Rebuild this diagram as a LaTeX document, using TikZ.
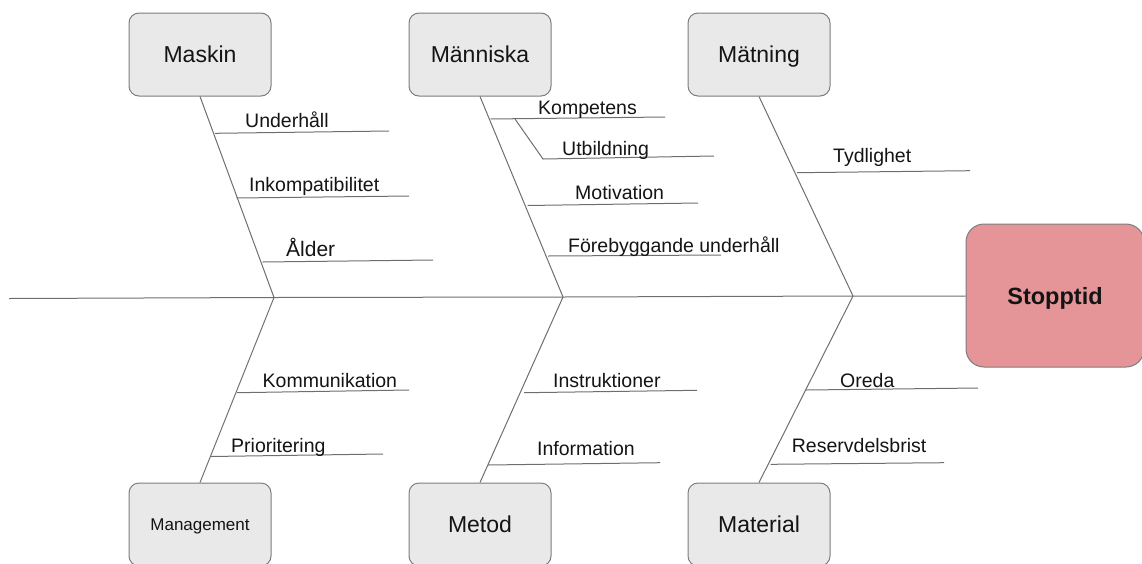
\documentclass[tikz,border=0pt]{standalone}
\usepackage{fontspec}
\setmainfont{Liberation Sans}
\definecolor{boxfill}{RGB}{233,233,233}
\definecolor{boxline}{RGB}{125,125,125}
\definecolor{effectfill}{RGB}{229,149,152}
\definecolor{bone}{RGB}{110,110,110}
\definecolor{ink}{RGB}{20,20,20}
\begin{document}
\begin{tikzpicture}[x=1pt,y=-1pt,
  catbox/.style={draw=boxline, fill=boxfill, rounded corners=10pt, line width=1pt,
    minimum width=142pt, minimum height=83pt, inner sep=0pt, text=ink,
    text height=16.5pt, text depth=0pt,
    font=\fontsize{23}{27}\selectfont},
  effectbox/.style={draw=boxline, fill=effectfill, rounded corners=18pt, line width=1pt,
    minimum width=178pt, minimum height=143pt, inner sep=0pt, text=ink,
    text height=17pt, text depth=0pt,
    font=\fontsize{23.5}{28}\selectfont\bfseries},
  boneline/.style={draw=bone, line width=1pt},
  causelabel/.style={anchor=base west, inner sep=0pt, text=ink,
    font=\fontsize{19.5}{23}\selectfont}]
\useasboundingbox (0,0) rectangle (1142,563);

% category boxes
\node[catbox] (maskin)   at (200,54.5)  {Maskin};
\node[catbox] (manniska) at (480,54.5)  {Människa};
\node[catbox] (matning)  at (759,54.5)  {Mätning};
\node[catbox, text height=12.2pt, font=\fontsize{17}{20}\selectfont] (mgmt) at (200,524.5) {Management};
\node[catbox] (metod)    at (480,524.5) {Metod};
\node[catbox] (material) at (759,524.5) {Material};

% effect
\node[effectbox] (stopp) at (1055,295.5) {Stopptid};

% spine
\coordinate (tail) at (9,298.5);
\coordinate (j1) at (274,297.5);
\coordinate (j2) at (563,297);
\coordinate (j3) at (853,296);
\draw[boneline] (tail) -- (j1) -- (j2) -- (j3) -- (stopp.west |- j3);

% main bones
\draw[boneline] (maskin.south) -- (j1) -- (mgmt.north);
\draw[boneline] (manniska.south) -- (j2) -- (metod.north);
\draw[boneline] (matning.south) -- (j3) -- (material.north);

% Maskin causes
\coordinate (a1) at (215,133.3);   \coordinate (a1e) at (389,131);
\coordinate (a2) at (236.5,198);   \coordinate (a2e) at (409,196);
\coordinate (a3) at (262.5,262);   \coordinate (a3e) at (433,260);
\draw[boneline] (a1) -- (a1e);
\draw[boneline] (a2) -- (a2e);
\draw[boneline] (a3) -- (a3e);
\node[causelabel] (t1) at (245,127.5) {Underhåll};
\node[causelabel] (t2) at (249,191) {Inkompatibilitet};
\node[causelabel, font=\fontsize{21}{25}\selectfont] (t3) at (286,256.5) {Ålder};

% Människa causes
\coordinate (b1) at (490.5,119);   \coordinate (b1e) at (665,117);
\coordinate (b1k) at (515,119);
\coordinate (b2) at (543,159);     \coordinate (b2e) at (714,156);
\coordinate (b3) at (527.5,205.5); \coordinate (b3e) at (698,203);
\coordinate (b4) at (548,256);     \coordinate (b4e) at (721,255);
\draw[boneline] (b1) -- (b1e);
\draw[boneline] (b1k) -- (b2) -- (b2e);
\draw[boneline] (b3) -- (b3e);
\draw[boneline] (b4) -- (b4e);
\node[causelabel] (t4) at (538,114.5) {Kompetens};
\node[causelabel] (t5) at (562,155) {Utbildning};
\node[causelabel] (t6) at (575,199) {Motivation};
\node[causelabel] (t7) at (568,252.5) {Förebyggande underhåll};

% Mätning causes
\coordinate (c1) at (797,172.7);   \coordinate (c1e) at (970,170.7);
\draw[boneline] (c1) -- (c1e);
\node[causelabel] (t8) at (833,162.5) {Tydlighet};

% Management causes
\coordinate (d1) at (237,392.7);   \coordinate (d1e) at (409,390);
\coordinate (d2) at (210.5,456.5); \coordinate (d2e) at (383,454);
\draw[boneline] (d1) -- (d1e);
\draw[boneline] (d2) -- (d2e);
\node[causelabel] (t9) at (262.5,387.5) {Kommunikation};
\node[causelabel] (t10) at (231,452) {Prioritering};

% Metod causes
\coordinate (e1) at (524,392.7);   \coordinate (e1e) at (697,390.3);
\coordinate (e2) at (488,465);     \coordinate (e2e) at (660,462.7);
\draw[boneline] (e1) -- (e1e);
\draw[boneline] (e2) -- (e2e);
\node[causelabel] (t11) at (553,387.5) {Instruktioner};
\node[causelabel] (t12) at (537,455.5) {Information};

% Material causes
\coordinate (f1) at (806,390);     \coordinate (f1e) at (978,388);
\coordinate (f2) at (770.7,464.3); \coordinate (f2e) at (944,462.7);
\draw[boneline] (f1) -- (f1e);
\draw[boneline] (f2) -- (f2e);
\node[causelabel] (t13) at (840,387) {Oreda};
\node[causelabel] (t14) at (791.7,452.5) {Reservdelsbrist};
\end{tikzpicture}
\end{document}
